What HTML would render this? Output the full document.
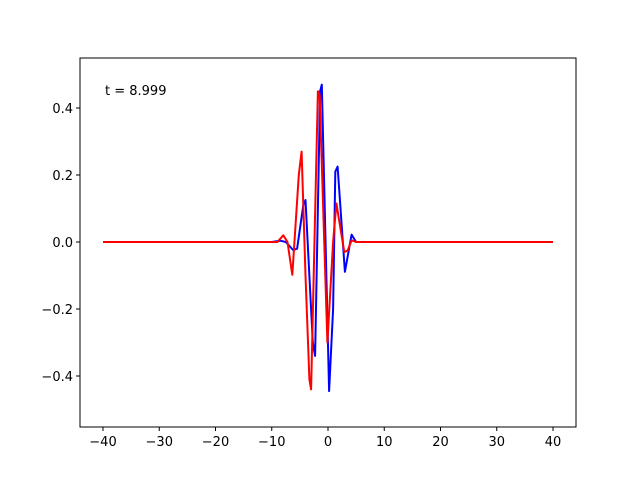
<!DOCTYPE html>
<html><head><meta charset="utf-8"><style>
body{margin:0;background:#fff}
svg text{font-family:"DejaVu Sans","Liberation Sans",sans-serif;font-size:13px;fill:#000}
</style></head><body>
<svg id="chart" width="640" height="480" xmlns="http://www.w3.org/2000/svg">
<rect x="0" y="0" width="640" height="480" fill="#fff"/>
<g id="plot"></g>
<g id="axes"></g>
<text x="105" y="95">t = 8.999</text>
</svg>
<script>
const xTicks=[-40,-30,-20,-10,0,10,20,30,40];
const yTicks=[-0.4,-0.2,0.0,0.2,0.4];
const blueX=[-40,-10,-8.5,-7.5,-6.2,-5.5,-4.4,-4.0,-2.7,-2.3,-1.4,-1.1,0.2,0.9,1.3,1.7,3.0,4.2,5.0,6,40];
const blueY=[0,0,0.004,0.0,-0.024,-0.02,0.11,0.125,-0.3,-0.34,0.45,0.47,-0.445,-0.2,0.21,0.225,-0.089,0.022,0.0,0,0];
const redX=[-40,-10,-9,-7.95,-7.2,-6.35,-5.2,-4.7,-4.0,-3.3,-3.0,-1.8,-1.5,-0.1,0.9,1.5,2.9,3.5,4.2,5,40];
const redY=[0,0,0,0.02,0.0,-0.098,0.2,0.27,-0.1,-0.41,-0.44,0.45,0.44,-0.3,0.0,0.115,-0.03,-0.025,0.005,0,0];
const X0=80,X1=576,Y0=58,Y1=427;
function sx(v){return 328+v*5.625;}
function sy(v){return 242-v*335;}
const NS="http://www.w3.org/2000/svg";
const plot=document.getElementById('plot'),axes=document.getElementById('axes');
function mk(t,a,p){const e=document.createElementNS(NS,t);for(const k in a)e.setAttribute(k,a[k]);p.appendChild(e);return e;}
function line(xs,ys,c,name){
  const pts=xs.map((x,i)=>sx(x).toFixed(1)+','+sy(ys[i]).toFixed(1)).join(' ');
  const p=mk('polyline',{points:pts,fill:'none',stroke:c,'stroke-width':2,'stroke-linejoin':'round'},plot);
  
  
}
line(blueX,blueY,'#0000ff','blue-series');
line(redX,redY,'#ff0000','red-series');
const fr=mk('rect',{x:X0,y:Y0,width:X1-X0,height:Y1-Y0,fill:'none',stroke:'#000','stroke-width':1},axes);


xTicks.forEach(v=>{
  const x=sx(v);
  mk('line',{x1:x,y1:Y1,x2:x,y2:Y1+4,stroke:'#000'},axes);
  const t=mk('text',{x:x,y:Y1+19,'text-anchor':'middle'},axes);
  t.textContent=(v<0?'\u2212':'')+Math.abs(v);
  
  
});
yTicks.forEach(v=>{
  const y=sy(v);
  mk('line',{x1:X0-4,y1:y,x2:X0,y2:y,stroke:'#000'},axes);
  const t=mk('text',{x:X0-7,y:y+5,'text-anchor':'end'},axes);
  t.textContent=(v<0?'\u2212':'')+Math.abs(v).toFixed(1);
  
  
});
</script>
</body></html>
